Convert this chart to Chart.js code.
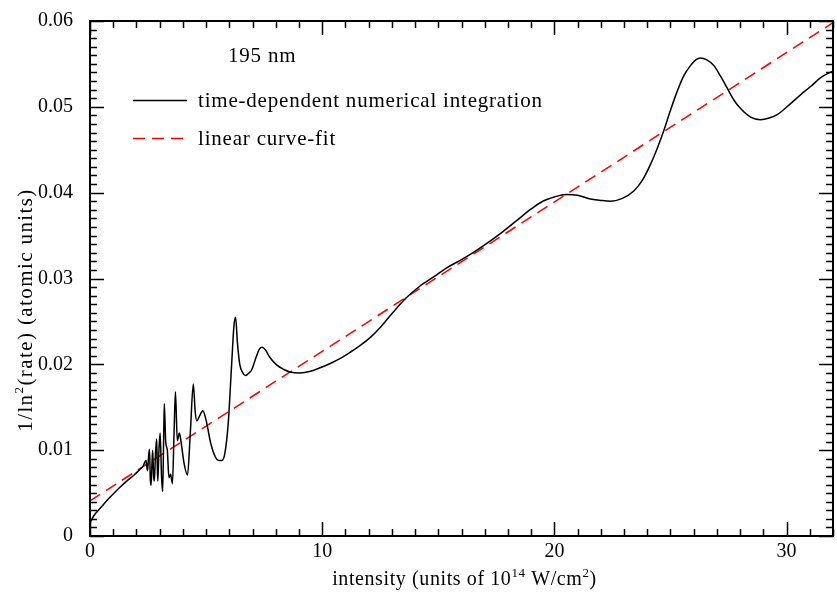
<!DOCTYPE html>
<html>
<head>
<meta charset="utf-8">
<script src="https://cdn.jsdelivr.net/npm/chart.js@4.4.0/dist/chart.umd.min.js"></script>
<style>
  html, body { margin: 0; padding: 0; background: #ffffff; }
  #wrap { width: 837px; height: 593px; position: relative; }
</style>
</head>
<body>
<div id="wrap"><canvas id="c" width="837" height="593"></canvas></div>
<script>
// ---- data ----
const intensity = [
  0.00, 0.15, 0.43, 0.75, 1.00, 1.30, 1.58, 1.90, 2.16, 2.30,
  2.36, 2.41, 2.45, 2.48, 2.52, 2.56, 2.60, 2.63, 2.67, 2.70,
  2.74, 2.77, 2.82, 2.87, 2.90, 2.92, 2.97, 3.02, 3.08, 3.13,
  3.17, 3.20, 3.26, 3.33, 3.40, 3.47, 3.55, 3.62, 3.68, 3.76,
  3.85, 3.92, 4.05, 4.20, 4.32, 4.45, 4.53, 4.60, 4.72, 4.86,
  5.00, 5.20, 5.40, 5.55, 5.68, 5.80, 5.95, 6.10, 6.20, 6.27,
  6.35, 6.45, 6.58, 6.70, 6.85, 6.97, 7.15, 7.30, 7.42, 7.55,
  7.75, 8.05, 8.35, 8.62, 9.05, 9.50, 9.91, 10.35, 10.78, 11.20,
  11.64, 12.10, 12.50, 13.00, 13.60, 14.20, 14.80, 15.40, 16.00, 16.60,
  17.20, 17.80, 18.40, 19.00, 19.50, 20.00, 20.50, 21.00, 21.50, 22.00,
  22.40, 22.90, 23.42, 23.80, 24.14, 24.45, 24.71, 25.00, 25.29, 25.57,
  25.86, 26.10, 26.29, 26.55, 26.87, 27.15, 27.44, 27.73, 28.02, 28.45,
  28.88, 29.25, 29.60, 30.10, 30.60, 31.05, 31.47, 32.00
];
const numericalRate = [
  0.0015, 0.0023, 0.0032, 0.0042, 0.0049, 0.0057, 0.0064, 0.0071, 0.0078, 0.0082,
  0.0086, 0.0088, 0.0080, 0.0076, 0.0092, 0.0101, 0.0065, 0.0059, 0.0085, 0.0100,
  0.0070, 0.0064, 0.0095, 0.0113, 0.0080, 0.0064, 0.0100, 0.0120, 0.0070, 0.0052,
  0.0110, 0.0154, 0.0110, 0.0100, 0.0068, 0.0072, 0.0061, 0.0120, 0.0168, 0.0111,
  0.0120, 0.0110, 0.0085, 0.0071, 0.0120, 0.0177, 0.0145, 0.0134, 0.0140, 0.0146,
  0.0135, 0.0108, 0.0092, 0.0088, 0.0088, 0.0095, 0.0130, 0.0200, 0.0245, 0.0255,
  0.0225, 0.0200, 0.0190, 0.0187, 0.0190, 0.0194, 0.0208, 0.0218, 0.0220, 0.0217,
  0.0208, 0.0199, 0.0194, 0.0191, 0.0190, 0.0192, 0.0196, 0.0201, 0.0207, 0.0214,
  0.0222, 0.0232, 0.0243, 0.0259, 0.0277, 0.0291, 0.0302, 0.0313, 0.0322, 0.0332,
  0.0343, 0.0355, 0.0368, 0.0381, 0.0390, 0.0395, 0.0398, 0.0397, 0.0393, 0.0391,
  0.0390, 0.0393, 0.0402, 0.0415, 0.0433, 0.0453, 0.0472, 0.0496, 0.0518, 0.0536,
  0.0548, 0.0555, 0.0557, 0.0555, 0.0548, 0.0536, 0.0522, 0.0508, 0.0498, 0.0488,
  0.0485, 0.0487, 0.0491, 0.0502, 0.0514, 0.0524, 0.0534, 0.0542
];
const fitIntensity = [0, 32];
const fitRate = [0.0041, 0.0598];

const xTickValues = [0, 10, 20, 30];
const xTickLabels = ['0', '10', '20', '30'];
const yTickValues = [0, 0.01, 0.02, 0.03, 0.04, 0.05, 0.06];
const yTickLabels = ['0', '0.01', '0.02', '0.03', '0.04', '0.05', '0.06'];

const seriesNames = ['time-dependent numerical integration', 'linear curve-fit'];
const annotationText = '195 nm';

const SERIF = '"Liberation Serif", "DejaVu Serif", serif';

function pts(xs, ys) { return xs.map((x, i) => ({ x: x, y: ys[i] })); }

function drawRich(ctx, parts, x, y, size, supSize, rise, align) {
  let total = 0;
  parts.forEach(p => {
    ctx.font = (p.sup ? supSize : size) + 'px ' + SERIF;
    total += ctx.measureText(p.t).width;
  });
  let cx = align === 'center' ? x - total / 2 : x;
  parts.forEach(p => {
    ctx.font = (p.sup ? supSize : size) + 'px ' + SERIF;
    ctx.fillText(p.t, cx, p.sup ? y - rise : y);
    cx += ctx.measureText(p.t).width;
  });
}

const framePlugin = {
  id: 'framePlugin',
  afterDatasetsDraw(chart) {
    const ctx = chart.ctx;
    const a = chart.chartArea;
    const xs = chart.scales.x, ys = chart.scales.y;
    ctx.save();
    ctx.strokeStyle = '#000';
    ctx.lineWidth = 2;
    ctx.strokeRect(a.left, a.top, a.right - a.left, a.bottom - a.top);
    ctx.lineWidth = 1.5;
    ctx.beginPath();
    for (let v = Math.ceil(xs.min); v <= xs.max; v += 1) {
      const px = Math.round(xs.getPixelForValue(v)) + 0.5;
      const len = (v % 10 === 0) ? 14 : 7;
      ctx.moveTo(px, a.bottom); ctx.lineTo(px, a.bottom - len);
      ctx.moveTo(px, a.top); ctx.lineTo(px, a.top + len);
    }
    for (let k = 0; k <= Math.round(ys.max / 0.001); k++) {
      const v = k * 0.001;
      const py = Math.round(ys.getPixelForValue(v)) + 0.5;
      const len = (k % 10 === 0) ? 14 : 7;
      ctx.moveTo(a.left, py); ctx.lineTo(a.left + len, py);
      ctx.moveTo(a.right, py); ctx.lineTo(a.right - len, py);
    }
    ctx.stroke();

    // annotation + legend
    ctx.fillStyle = '#000';
    ctx.textBaseline = 'alphabetic';
    ctx.textAlign = 'left';
    ctx.letterSpacing = '0.8px';
    ctx.font = '21px ' + SERIF;
    ctx.fillText(annotationText, 228, 62);
    const rows = [100, 138];
    chart.data.datasets.forEach((ds, i) => {
      ctx.save();
      ctx.strokeStyle = ds.borderColor;
      ctx.lineWidth = ds.borderWidth;
      ctx.setLineDash(ds.borderDash || []);
      ctx.beginPath();
      ctx.moveTo(133, rows[i] + 0.5); ctx.lineTo(187, rows[i] + 0.5);
      ctx.stroke();
      ctx.restore();
      ctx.fillStyle = '#000';
      ctx.font = '21px ' + SERIF;
      ctx.fillText(ds.label, 198, rows[i] + 7);
    });

    // x title
    ctx.letterSpacing = '0.6px';
    drawRich(ctx, [
      { t: 'intensity (units of 10' }, { t: '14', sup: true },
      { t: ' W/cm' }, { t: '2', sup: true }, { t: ')' }
    ], (a.left + a.right) / 2 + 3, 585, 20, 13, 8, 'center');

    // y title
    ctx.save();
    ctx.letterSpacing = '1.4px';
    ctx.translate(32, 310);
    ctx.rotate(-Math.PI / 2);
    drawRich(ctx, [
      { t: '1/ln' }, { t: '2', sup: true }, { t: '(rate) (atomic units)' }
    ], 0, 0, 21, 13, 9, 'center');
    ctx.restore();
    ctx.restore();
  }
};

new Chart(document.getElementById('c'), {
  type: 'line',
  data: {
    datasets: [
      {
        label: seriesNames[0],
        data: pts(intensity, numericalRate),
        borderColor: '#000000',
        borderWidth: 1.5,
        pointRadius: 0,
        fill: false,
        cubicInterpolationMode: 'monotone'
      },
      {
        label: seriesNames[1],
        data: pts(fitIntensity, fitRate),
        borderColor: '#ff0000',
        borderWidth: 1.5,
        borderDash: [12, 7],
        pointRadius: 0,
        fill: false
      }
    ]
  },
  options: {
    responsive: false,
    animation: false,
    events: [],
    layout: { padding: { top: 15, right: 4, left: 0, bottom: 0 } },
    plugins: { legend: { display: false }, tooltip: { enabled: false }, title: { display: false } },
    scales: {
      x: {
        type: 'linear',
        min: 0, max: 32,
        grid: { display: false },
        border: { display: false },
        afterBuildTicks: s => { s.ticks = xTickValues.map(v => ({ value: v })); },
        afterFit: s => { s.height = 57; },
        ticks: {
          padding: -4,
          color: '#000',
          font: { family: SERIF, size: 20 },
          maxRotation: 0,
          callback: (v) => { const i = xTickValues.indexOf(v); return i >= 0 ? xTickLabels[i] : ''; }
        }
      },
      y: {
        type: 'linear',
        min: 0, max: 0.06,
        grid: { display: false },
        border: { display: false },
        afterBuildTicks: s => { s.ticks = yTickValues.map(v => ({ value: v })); },
        afterFit: s => { s.width = 90; },
        ticks: {
          padding: 9,
          color: '#000',
          font: { family: SERIF, size: 20 },
          callback: (v) => {
            const i = yTickValues.findIndex(t => Math.abs(t - v) < 1e-9);
            return i >= 0 ? yTickLabels[i] : '';
          }
        }
      }
    }
  },
  plugins: [framePlugin]
});
</script>
</body>
</html>
